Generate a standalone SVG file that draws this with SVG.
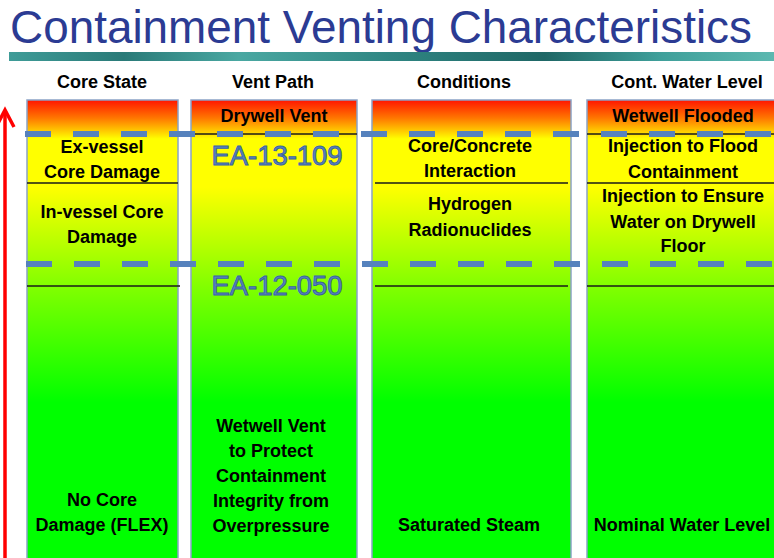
<svg xmlns="http://www.w3.org/2000/svg" width="774" height="558" viewBox="0 0 774 558">
<defs>
<linearGradient id="heat" gradientUnits="userSpaceOnUse" x1="0" y1="100" x2="0" y2="558">
<stop offset="0" stop-color="#ff1500"/>
<stop offset="0.04" stop-color="#ff7800"/>
<stop offset="0.085" stop-color="#ffff00"/>
<stop offset="0.19" stop-color="#ffff00"/>
<stop offset="0.41" stop-color="#80ff00"/>
<stop offset="0.66" stop-color="#00ff00"/>
<stop offset="1" stop-color="#00ff00"/>
</linearGradient>
<linearGradient id="bar" x1="0" y1="0" x2="1" y2="0">
<stop offset="0" stop-color="#3f9c98"/>
<stop offset="0.15" stop-color="#2a7a78"/>
<stop offset="0.3" stop-color="#4aa8a2"/>
<stop offset="0.5" stop-color="#2f8582"/>
<stop offset="0.7" stop-color="#1f6766"/>
<stop offset="0.85" stop-color="#3f9f9a"/>
<stop offset="1" stop-color="#5cb8b0"/>
</linearGradient>
</defs>
<style>
.col{fill:url(#heat);stroke:#8aa2c6;stroke-width:1.5}
.sep{stroke:#1a1a1a;stroke-width:1.5}
.t{font-family:"Liberation Sans",Arial,sans-serif;font-weight:bold;font-size:18px;fill:#000;text-anchor:middle}
.h{font-family:"Liberation Sans",Arial,sans-serif;font-weight:bold;font-size:18px;fill:#000;text-anchor:middle}
.ea{font-family:"Liberation Sans",Arial,sans-serif;font-size:28px;fill:#5a86c2;stroke:#3a62a0;stroke-width:1;text-anchor:middle}
.dash{stroke:#5682bd;stroke-width:6;stroke-dasharray:26 22;fill:none}
</style>
<rect width="774" height="558" fill="#ffffff"/>
<g id="title">
<text x="10" y="43" font-family="'Liberation Sans',Arial,sans-serif" font-size="47" fill="#2b3b93" textLength="742" lengthAdjust="spacingAndGlyphs">Containment Venting Characteristics</text>
<rect x="9" y="52" width="765" height="9" fill="url(#bar)"/>
</g>
<g id="headers">
<text class="h" x="102" y="88">Core State</text>
<text class="h" x="273" y="88">Vent Path</text>
<text class="h" x="464" y="88">Conditions</text>
<text class="h" x="687" y="88">Cont. Water Level</text>
</g>
<g id="col-core-state">
<rect class="col" x="27" y="100" width="151" height="470"/>
<line class="sep" x1="27" y1="183" x2="178" y2="183"/>
<line class="sep" x1="27" y1="286" x2="180" y2="286"/>
<text class="t" x="102" y="153">Ex-vessel</text>
<text class="t" x="102" y="178">Core Damage</text>
<text class="t" x="102" y="218">In-vessel Core</text>
<text class="t" x="102" y="243">Damage</text>
<text class="t" x="102" y="506">No Core</text>
<text class="t" x="102" y="531">Damage (FLEX)</text>
</g>
<g id="col-vent-path">
<rect class="col" x="191" y="100" width="166" height="470"/>
<line class="sep" x1="191" y1="134" x2="357" y2="134"/>
<text class="t" x="274" y="122">Drywell Vent</text>
<text class="ea" x="277" y="165" textLength="131" lengthAdjust="spacingAndGlyphs">EA-13-109</text>
<text class="ea" x="277" y="295" textLength="131" lengthAdjust="spacingAndGlyphs">EA-12-050</text>
<text class="t" x="271" y="432">Wetwell Vent</text>
<text class="t" x="271" y="457">to Protect</text>
<text class="t" x="271" y="482">Containment</text>
<text class="t" x="271" y="507">Integrity from</text>
<text class="t" x="271" y="532">Overpressure</text>
</g>
<g id="col-conditions">
<rect class="col" x="372" y="100" width="199" height="470"/>
<line class="sep" x1="375" y1="183" x2="568" y2="183"/>
<line class="sep" x1="375" y1="286" x2="568" y2="286"/>
<text class="t" x="470" y="152">Core/Concrete</text>
<text class="t" x="470" y="177">Interaction</text>
<text class="t" x="470" y="210">Hydrogen</text>
<text class="t" x="470" y="236">Radionuclides</text>
<text class="t" x="469" y="531">Saturated Steam</text>
</g>
<g id="col-water-level">
<rect class="col" x="587" y="100" width="200" height="470"/>
<line class="sep" x1="587" y1="134" x2="774" y2="134"/>
<line class="sep" x1="587" y1="183" x2="774" y2="183"/>
<line class="sep" x1="587" y1="286" x2="774" y2="286"/>
<text class="t" x="683" y="122">Wetwell Flooded</text>
<text class="t" x="683" y="152">Injection to Flood</text>
<text class="t" x="683" y="178">Containment</text>
<text class="t" x="683" y="202">Injection to Ensure</text>
<text class="t" x="683" y="228">Water on Drywell</text>
<text class="t" x="683" y="252">Floor</text>
<text class="t" x="682" y="531">Nominal Water Level</text>
</g>
<g id="connectors">
<line class="dash" x1="25" y1="134" x2="774" y2="134"/>
<line class="dash" x1="26" y1="264" x2="774" y2="264"/>
<g id="severity-arrow" stroke="#ff0000" stroke-width="3.5" fill="none">
<line x1="5" y1="111" x2="5" y2="558"/>
<polyline points="-4,127 5,110 14,127"/>
</g>
</g>
</svg>
